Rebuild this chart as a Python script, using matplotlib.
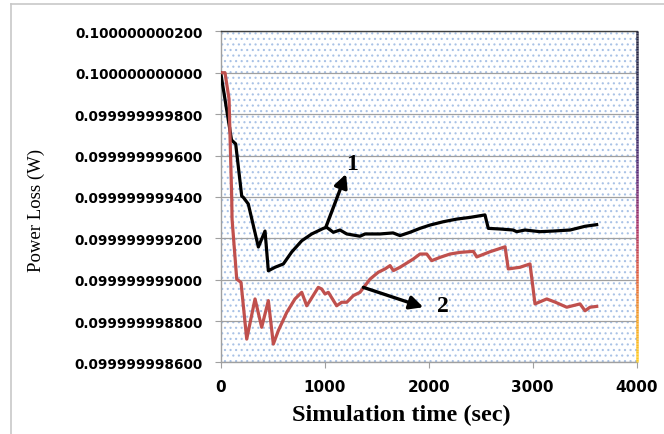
import numpy as np
import matplotlib
matplotlib.use("Agg")
import matplotlib.pyplot as plt
from matplotlib.patches import Rectangle
from matplotlib.lines import Line2D
from matplotlib.collections import LineCollection
from matplotlib.colors import LinearSegmentedColormap

# Series 1 (black): power loss versus simulation time
time_1 = [0, 104, 144, 202, 217, 265, 362, 426, 458, 522, 602, 683, 779, 875,
          987, 1019, 1083, 1147, 1212, 1339, 1388, 1532, 1657, 1724, 1820, 1916,
          2013, 2140, 2272, 2397, 2541, 2573, 2685, 2811, 2846, 2926, 3070, 3195,
          3359, 3503, 3615]
loss_1 = [0.100000000000, 0.099999999675, 0.099999999656, 0.099999999404,
          0.099999999398, 0.099999999366, 0.099999999158, 0.099999999235,
          0.099999999043, 0.099999999060, 0.099999999076, 0.099999999134,
          0.099999999188, 0.099999999221, 0.099999999248, 0.099999999253,
          0.099999999229, 0.099999999240, 0.099999999221, 0.099999999210,
          0.099999999221, 0.099999999221, 0.099999999226, 0.099999999213,
          0.099999999229, 0.099999999248, 0.099999999264, 0.099999999280,
          0.099999999293, 0.099999999301, 0.099999999313, 0.099999999248,
          0.099999999245, 0.099999999240, 0.099999999232, 0.099999999240,
          0.099999999232, 0.099999999235, 0.099999999240, 0.099999999258,
          0.099999999266]

# Series 2 (red): power loss versus simulation time
time_2 = [0, 41, 80, 106, 109, 154, 195, 250, 330, 394, 458, 506, 554, 635, 714,
          779, 827, 859, 938, 971, 1003, 1035, 1115, 1163, 1212, 1275, 1339,
          1436, 1515, 1580, 1628, 1660, 1724, 1852, 1916, 1981, 2029, 2109,
          2205, 2301, 2429, 2462, 2589, 2734, 2765, 2878, 2974, 3022, 3135,
          3214, 3327, 3455, 3503, 3551, 3615]
loss_2 = [0.100000000000, 0.100000000000, 0.099999999873, 0.099999999390,
          0.099999999293, 0.099999999003, 0.099999998987, 0.099999998713,
          0.099999998907, 0.099999998770, 0.099999998899, 0.099999998689,
          0.099999998754, 0.099999998842, 0.099999998907, 0.099999998939,
          0.099999998874, 0.099999998899, 0.099999998963, 0.099999998955,
          0.099999998931, 0.099999998939, 0.099999998874, 0.099999998891,
          0.099999998891, 0.099999998923, 0.099999998939, 0.099999999003,
          0.099999999036, 0.099999999052, 0.099999999068, 0.099999999044,
          0.099999999060, 0.099999999100, 0.099999999124, 0.099999999124,
          0.099999999092, 0.099999999108, 0.099999999124, 0.099999999132,
          0.099999999137, 0.099999999110, 0.099999999135, 0.099999999159,
          0.099999999052, 0.099999999060, 0.099999999076, 0.099999998883,
          0.099999998907, 0.099999998892, 0.099999998867, 0.099999998883,
          0.099999998850, 0.099999998867, 0.099999998871]

x_ticks = [0, 1000, 2000, 3000, 4000]
y_ticks = [0.0999999986, 0.0999999988, 0.0999999990, 0.0999999992,
           0.0999999994, 0.0999999996, 0.0999999998, 0.1000000000,
           0.1000000002]
y_tick_labels = ['0.099999998600', '0.099999998800', '0.099999999000',
                 '0.099999999200', '0.099999999400', '0.099999999600',
                 '0.099999999800', '0.100000000000', '0.100000000200']

fig = plt.figure(figsize=(6.64, 4.35), dpi=100)
ax = fig.add_axes([0.3324, 0.1644, 0.6265, 0.7613])

# dotted plot-area fill
plt.rcParams['hatch.linewidth'] = 0.8
bg = Rectangle((0, 0), 1, 1, transform=ax.transAxes, facecolor='white',
               edgecolor='#a9c2e6', hatch='...', linewidth=0, zorder=0)
ax.add_patch(bg)
ax.set_facecolor('white')

ax.set_xlim(0, 4000)
ax.set_ylim(y_ticks[0], y_ticks[-1])
ax.set_xticks(x_ticks)
ax.set_yticks(y_ticks)
ax.set_yticklabels(y_tick_labels)
ax.grid(axis='y', color='#a0a0a0', linewidth=0.9, zorder=1)
ax.set_axisbelow(True)

ax.plot(time_1, loss_1, color='black', linewidth=2.3, zorder=3,
        solid_joinstyle='round')
ax.plot(time_2, loss_2, color='#c0504d', linewidth=2.3, zorder=3,
        solid_joinstyle='round')

# curve labels with arrows
arrow = dict(arrowstyle='-|>', color='black', lw=2.4, mutation_scale=20,
             shrinkA=0, shrinkB=0)
ax.annotate('', xy=(1205, 0.099999999511), xytext=(1012, 0.099999999255),
            arrowprops=arrow, zorder=4)
ax.annotate('', xy=(1948, 0.099999998867), xytext=(1371, 0.099999998963),
            arrowprops=arrow, zorder=4)
ax.text(1259, 0.099999999559, '1', fontsize=17, fontweight='bold',
        family='Liberation Serif', ha='center', va='center')
ax.text(2140, 0.099999998874, '2', fontsize=17, fontweight='bold',
        family='Liberation Serif', ha='center', va='center')

# axis styling
for side in ('left', 'bottom'):
    ax.spines[side].set_color('#a0a0a0')
    ax.spines[side].set_linewidth(1.0)
ax.spines['top'].set_color('#404040')
ax.spines['top'].set_linewidth(1.0)
ax.spines['right'].set_visible(False)

# gradient right border
cmap = LinearSegmentedColormap.from_list(
    'edge', ['#262640', '#2c2c5e', '#5a2a78', '#a82e66', '#e0583a', '#f5a023',
             '#ffcc1e'])
ys = np.linspace(1, 0, 200)
segs = [[(1, ys[i]), (1, ys[i + 1])] for i in range(len(ys) - 1)]
lc = LineCollection(segs, colors=cmap(np.linspace(0, 1, len(segs)) ** 1.3),
                    linewidths=1.8, transform=ax.transAxes, clip_on=False,
                    zorder=5)
ax.add_collection(lc)

ax.tick_params(axis='y', direction='out', length=4, color='#a0a0a0',
               pad=9, labelsize=9.8)
ax.tick_params(axis='x', direction='out', length=4, color='#a0a0a0',
               pad=8, labelsize=11)
for lab in ax.get_xticklabels() + ax.get_yticklabels():
    lab.set_fontweight('bold')
    lab.set_family('DejaVu Sans')
ax.yaxis.get_offset_text().set_visible(False)

ax.set_xlabel('Simulation time (sec)', fontsize=17.5, fontweight='bold',
              family='Liberation Serif')
ax.xaxis.set_label_coords(0.433, -0.125)
ax.set_ylabel('Power Loss (W)', fontsize=13.5, family='Liberation Serif')
ax.yaxis.set_label_coords(-0.422, 0.4635)

# outer chart frame
fig.add_artist(Line2D([11 / 664, 11 / 664], [0, 1 - 5 / 435],
                      color='#c8c8c8', linewidth=1.2))
fig.add_artist(Line2D([11 / 664, 1], [1 - 5 / 435, 1 - 5 / 435],
                      color='#c8c8c8', linewidth=1.2))

fig.savefig('out.png', dpi=100)
